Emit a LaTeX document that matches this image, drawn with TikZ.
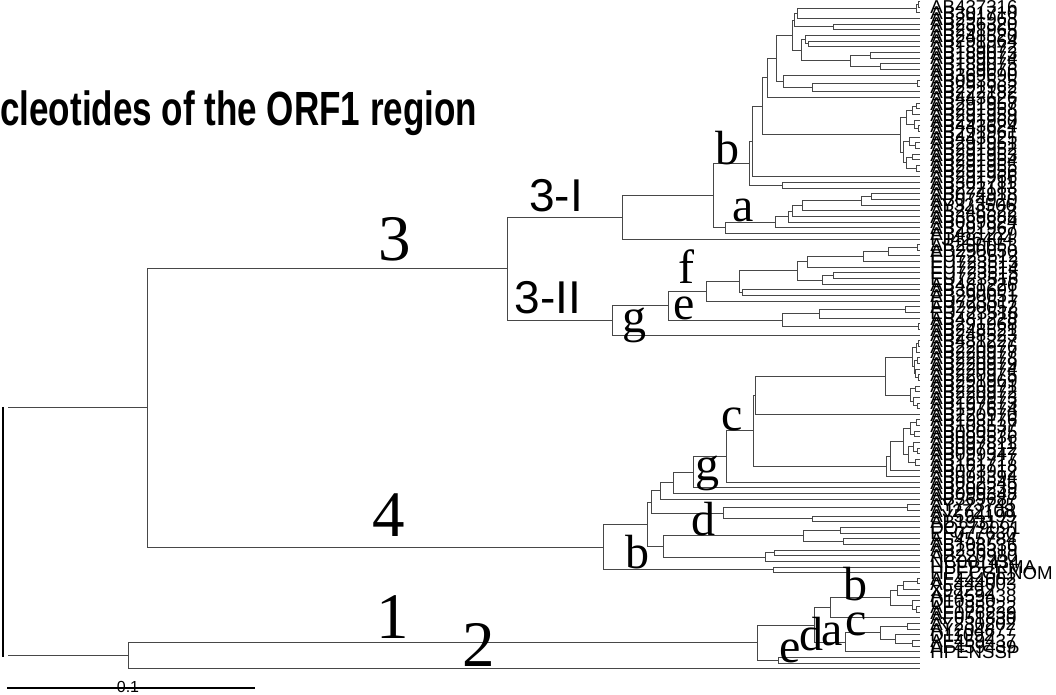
\documentclass[tikz,border=0pt]{standalone}
\usepackage{fontspec}
\setmainfont{Liberation Serif}
\newfontfamily\arialf{Liberation Sans}
\newcommand\bn[5]{\draw[br] (#3,{L(#2)}) -- (#1,{L(#2)}) -- (#1,{L(#4)}) -- (#5,{L(#4)});}
\begin{document}
\begin{tikzpicture}[x=0.75pt,y=-0.75pt,
  declare function={L(\i)=1.5+5.655*\i;},
  br/.style={draw=black!72,line width=0.75pt},
  leaf/.style={anchor=base west,inner sep=0pt,font=\arialf\fontsize{14pt}{14pt}\selectfont},
  big/.style={anchor=base,inner sep=0pt,font=\fontsize{48.75pt}{48.75pt}\selectfont},
  let/.style={anchor=base,inner sep=0pt,font=\fontsize{36pt}{36pt}\selectfont},
  sub/.style={anchor=base,inner sep=0pt,font=\arialf\fontsize{34.5pt}{34.5pt}\selectfont}]
\useasboundingbox (0,0) rectangle (1056,695);
\def\T{920}
% title
\node[anchor=base west,inner sep=0pt,font=\arialf\bfseries\fontsize{36pt}{36pt}\selectfont] (title) at (0,126) {\scalebox{0.73}[1]{cleotides of the ORF1 region}};
% ---- clade 3-I
\bn{918}{0}{\T}{1}{\T}
\bn{916}{0.5}{918}{2}{\T}
\bn{797}{1.25}{916}{3}{\T}
\bn{833}{4}{\T}{5}{\T}
\bn{794}{2.125}{797}{4.5}{833}
\bn{808}{7}{\T}{8}{\T}
\bn{805}{6}{\T}{7.5}{808}
\bn{870}{9}{\T}{10}{\T}
\bn{880}{11}{\T}{12}{\T}
\bn{850}{9.5}{870}{11.5}{880}
\bn{801}{6.75}{805}{10.5}{850}
\bn{792}{3.3125}{794}{8.625}{801}
\bn{917}{14}{\T}{15}{\T}
\bn{812}{14.5}{917}{16}{\T}
\bn{783}{13}{\T}{15.25}{812}
\bn{776}{5.96875}{792}{14.125}{783}
\bn{767}{10.046875}{776}{17}{\T}
\bn{916}{18}{\T}{19}{\T}
\bn{912}{18.5}{916}{20}{\T}
\bn{918}{22}{\T}{23}{\T}
\bn{914}{21}{\T}{22.5}{918}
\bn{906}{19.25}{912}{21.75}{914}
\bn{915}{25}{\T}{26}{\T}
\bn{909}{24}{\T}{25.5}{915}
\bn{912}{27}{\T}{28}{\T}
\bn{916}{29}{\T}{30}{\T}
\bn{906}{27.5}{912}{29.5}{916}
\bn{903}{24.75}{909}{28.5}{906}
\bn{900}{20.5}{906}{26.625}{903}
\bn{762}{13.5234}{767}{23.5625}{900}
\bn{752}{18.543}{762}{31}{\T}
\bn{782}{32}{\T}{33}{\T}
\bn{749}{24.7715}{752}{32.5}{782}
\bn{871}{34}{\T}{35}{\T}
\bn{861}{34.5}{871}{36}{\T}
\bn{802}{35.25}{861}{37}{\T}
\bn{792}{36.125}{802}{38}{\T}
\bn{788}{37.0625}{792}{39}{\T}
\bn{775}{38.03125}{788}{40}{\T}
\bn{725}{39.015625}{775}{41}{\T}
\bn{713}{28.636}{749}{40.0078}{725}
\bn{622}{34.322}{713}{42}{\T}
% ---- clade 3-II
\bn{917}{43}{\T}{44}{\T}
\bn{888}{43.5}{917}{45}{\T}
\bn{863}{44.25}{888}{46}{\T}
\bn{807}{45.125}{863}{47}{\T}
\bn{833}{48}{\T}{49}{\T}
\bn{822}{48.5}{833}{50}{\T}
\bn{797}{46.0625}{807}{49.25}{822}
\bn{742}{51}{\T}{52}{\T}
\bn{739}{47.656}{797}{51.5}{742}
\bn{706}{49.578}{739}{53}{\T}
\bn{905}{54}{\T}{55}{\T}
\bn{819}{54.5}{905}{56}{\T}
\bn{918}{57}{\T}{58}{\T}
\bn{782}{55.25}{819}{57.5}{918}
\bn{668}{51.289}{706}{56.375}{782}
\bn{612}{53.832}{668}{59}{\T}
\bn{507}{38.161}{622}{56.416}{612}
% ---- clade 4
\bn{918}{60}{\T}{61}{\T}
\bn{916}{60.5}{918}{62}{\T}
\bn{917}{63}{\T}{64}{\T}
\bn{918}{66}{\T}{67}{\T}
\bn{915}{65}{\T}{66.5}{918}
\bn{914}{63.5}{917}{65.75}{915}
\bn{912}{61.25}{916}{64.625}{914}
\bn{915}{68}{\T}{69}{\T}
\bn{917}{71}{\T}{72}{\T}
\bn{913}{70}{\T}{71.5}{917}
\bn{910}{68.5}{915}{70.75}{913}
\bn{885}{62.9375}{912}{69.625}{910}
\bn{755}{66.281}{885}{73}{\T}
\bn{916}{74}{\T}{75}{\T}
\bn{914}{76}{\T}{77}{\T}
\bn{910}{74.5}{916}{76.5}{914}
\bn{917}{79}{\T}{80}{\T}
\bn{913}{78}{\T}{79.5}{917}
\bn{915}{81}{\T}{82}{\T}
\bn{908}{78.75}{913}{81.5}{915}
\bn{903}{75.5}{910}{80.125}{908}
\bn{890}{77.8125}{903}{83}{\T}
\bn{886}{80.406}{890}{84}{\T}
\bn{753}{69.64}{755}{82.203}{886}
\bn{726}{75.92}{753}{85}{\T}
\bn{693}{80.46}{726}{86}{\T}
\bn{673}{83.23}{693}{87}{\T}
\bn{660}{85.115}{673}{88}{\T}
\bn{907}{89}{\T}{90}{\T}
\bn{812}{91}{\T}{92}{\T}
\bn{723}{89.5}{907}{91.5}{812}
\bn{651}{86.56}{660}{90.5}{723}
\bn{840}{93}{\T}{94}{\T}
\bn{843}{95}{\T}{96}{\T}
\bn{803}{93.5}{840}{95.5}{843}
\bn{774}{97}{\T}{98}{\T}
\bn{765}{97.5}{774}{99}{\T}
\bn{663}{94.5}{803}{98.25}{765}
\bn{647}{88.53}{651}{96.375}{663}
\bn{773}{100}{\T}{101}{\T}
\bn{603}{92.45}{647}{100.5}{773}
\bn{147}{47.2885}{507}{96.477}{603}
% ---- clades 1 and 2
\bn{917}{102}{\T}{103}{\T}
\bn{903}{102.5}{917}{104}{\T}
\bn{897}{103.25}{903}{105}{\T}
\bn{916}{107}{\T}{108}{\T}
\bn{912}{106}{\T}{107.5}{916}
\bn{890}{104.125}{897}{106.75}{912}
\bn{830}{105.44}{890}{109}{\T}
\bn{907}{110}{\T}{111}{\T}
\bn{912}{113}{\T}{114}{\T}
\bn{895}{112}{\T}{113.5}{912}
\bn{880}{110.5}{907}{112.75}{895}
\bn{845}{111.625}{880}{115}{\T}
\bn{814}{107.22}{830}{113.31}{845}
\bn{778}{116}{\T}{117}{\T}
\bn{757}{110.265}{814}{116.5}{778}
\bn{128}{113.38}{757}{118}{\T}
% root
\draw[br] (8,{L(71.88)}) -- (147,{L(71.88)});
\draw[br] (8,{L(115.69)}) -- (128,{L(115.69)});
\draw[line width=1.6pt] (3,{L(71.88)-1}) -- (3,{L(115.69)+1});
% scale bar
\node[anchor=base,inner sep=0pt,font=\arialf\fontsize{12pt}{12pt}\selectfont] (sc) at (128,692) {0.1};
\draw[line width=1.6pt] (7,688) -- (255,688);
% clade labels
\node[big] (l3) at (395,261) {3};
\node[big] (l4) at (389,536) {4};
\node[big] (l1) at (393,638) {1};
\node[big] (l2) at (479,666) {2};
\node[sub] (l3i) at (556,212) {3-I};
\node[sub] (l3ii) at (548,313) {3-II};
\node[let] (b1) at (727,165) {b};
\node[let] (a1) at (743,222) {a};
\node[let] (f1) at (686,283) {f};
\node[let] (e1) at (684,320) {e};
\node[let] (g1) at (634,332) {g};
\node[let] (c2) at (732,430) {c};
\node[let] (g2) at (707,480) {g};
\node[let] (d2) at (703,535) {d};
\node[let] (b2) at (637,568) {b};
\node[let] (b3) at (855,600) {b};
\node[let] (c3) at (856,635) {c};
\node[let] (a3) at (832,645) {a};
\node[let] (d3) at (811,650) {d};
\node[let] (e3) at (790,662) {e};
% leaf labels
\foreach \t [count=\n from 0] in {AB437316,AB301710,AB291963,AB236320,AB291965,AB248520,AB291964,AB189072,AB189073,AB189074,AB189075,AB189076,AB369690,AB093535,AB291962,AB222182,AB443626,AB291957,AB291958,AB291959,AB291960,AB443624,AB291961,AB443625,AB291951,AB291952,AB291953,AB291954,AB291955,AB291956,AB291966,AB301711,AB222183,AB074918,AB074920,AY323506,AB248522,AB369688,AB089824,AB291967,AB481229,FJ426404,AB290053,
AB290050,EU723512,EU723513,EU723514,EU723515,EU723516,AB481226,AB369691,AB290051,EU723517,AB290052,EU723518,AB481228,AB291968,AB248521,AB248523,AB481227,
AB220976,AB220977,AB220978,AB220979,AB220974,AB220975,AB291969,AB220971,AB220972,AB220973,AB197673,AB197674,AB220970,AB193176,AB108537,AB080575,AB093536,AB097811,AB097812,AB099347,AB161717,AB161718,AB073912,AB091394,AB082545,AB200239,AB099348,AB369687,AY723745,AJ272108,AY594199,AB193177,DQ279091,EF077630,AF455784,AB108536,AB236319,AB220980,
NC001434,HPEBURMA,HPECGENOM,AF444002,AF444003,X98292,AF459438,D10330,AF185822,AF076239,AF051830,AY230202,AY204877,D11092,AF459437,AF459439,HPENSSP}
  \node[leaf] (lf\n) at (930,{L(\n)+12.5}) {\t};
\end{tikzpicture}
\end{document}
